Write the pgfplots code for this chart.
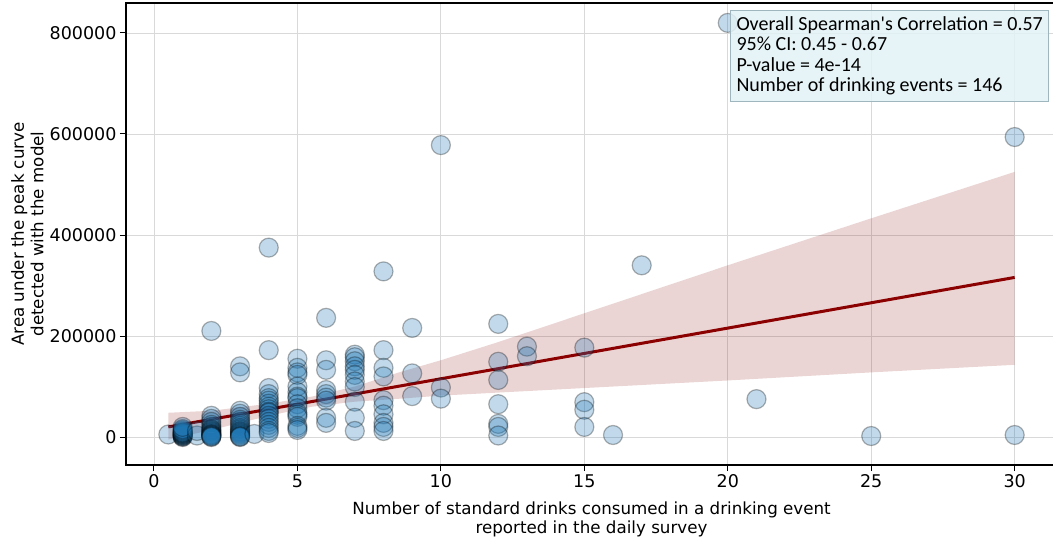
\documentclass[border=0pt]{standalone}
\usepackage{pgfplots}
\pgfplotsset{compat=1.18}
\usepackage{fontspec}
\setmainfont{DejaVu Sans}
\newfontfamily\carlito{Carlito}
\definecolor{tabblue}{HTML}{1F77B4}
\definecolor{dred}{HTML}{8B0000}
\definecolor{boxfill}{HTML}{E3F2F6}
\definecolor{boxedge}{HTML}{9FB6BE}
\begin{document}
\begin{tikzpicture}
\begin{axis}[
  at={(0,0)}, anchor=south west,
  scale only axis, width=931pt, height=462pt,
  xmin=-0.975, xmax=31.475, ymin=-55400, ymax=859400,
  xtick={0,5,10,15,20,25,30},
  ytick={0,200000,400000,600000,800000},
  scaled y ticks=false,
  yticklabel style={/pgf/number format/fixed,/pgf/number format/1000 sep={}},
  /pgf/number format/assume math mode=true,
  tick label style={font=\fontsize{17.5}{20}\selectfont},
  tick align=outside, tick pos=left,
  major tick length=6pt,
  every tick/.style={black, line width=1pt},
  axis line style={line width=1.2pt},
  grid=major, grid style={color=black!15, line width=0.8pt},
  xlabel={Number of standard drinks consumed in a drinking event\\reported in the daily survey},
  ylabel={Area under the peak curve\\detected with the model},
  xlabel style={at={(axis description cs:0.5,-0.118)}, anchor=center, align=center, font=\fontsize{16.7}{19.5}\selectfont},
  ylabel style={at={(axis description cs:-0.1058,0.5)}, anchor=center, align=center, font=\fontsize{16.7}{19.5}\selectfont},
  clip=false,
]
\addplot[only marks, mark=*, mark size=9.5pt,
  mark options={fill=tabblue, fill opacity=0.28, draw=black, draw opacity=0.3, line width=1.2pt}]
coordinates {
(0.5,5000)
(1,0)(1,1000)(1,2000)(1,3000)(1,4000)(1,5000)(1,6000)(1,7000)(1,8000)(1,9000)(1,10000)(1,12000)(1,14000)(1,16000)(1,20000)
(1.5,3000)(1.5,12000)
(2,42000)(2,36000)(2,30000)(2,24000)(2,20000)(2,16000)(2,14000)(2,12000)(2,10000)(2,8000)(2,6000)(2,5000)(2,4000)(2,3000)(2,2000)(2,1000)(2,0)(2,210000)
(3,140000)(3,128000)(3,52000)(3,46000)(3,40000)(3,34000)(3,30000)(3,26000)(3,22000)(3,18000)(3,15000)(3,12000)(3,10000)(3,8000)(3,6000)(3,4000)(3,2000)(3,1000)(3,0)
(3.5,6000)
(4,375000)(4,172000)(4,97000)(4,85000)(4,77000)(4,72000)(4,66000)(4,60000)(4,55000)(4,50000)(4,48000)(4,42000)(4,36000)(4,30000)(4,24000)(4,18000)(4,12000)(4,8000)
(5,155000)(5,137000)(5,128000)(5,123000)(5,100000)(5,89000)(5,80000)(5,77000)(5,65000)(5,57000)(5,48000)(5,44000)(5,40000)(5,22000)(5,18000)(5,14000)
(6,236000)(6,152000)(6,133000)(6,93000)(6,85000)(6,78000)(6,72000)(6,38000)(6,28000)
(7,163000)(7,158000)(7,150000)(7,140000)(7,133000)(7,123000)(7,110000)(7,99000)(7,70000)(7,38000)(7,12000)
(8,328000)(8,172000)(8,137000)(8,120000)(8,73000)(8,62000)(8,45000)(8,28000)(8,20000)(8,12000)
(9,216000)(9,126000)(9,81000)
(10,578000)(10,98000)(10,76000)
(12,224000)(12,149000)(12,113000)(12,65000)(12,26000)(12,20000)(12,3000)
(13,179000)(13,160000)
(15,177000)(15,69000)(15,54000)(15,20000)
(16,4000)
(17,340000)
(20,820000)
(21,75000)
(25,2000)
(30,594000)(30,4000)
};
\addplot[draw=none, fill=dred, fill opacity=0.17] coordinates {
(0.5,48000)(2,52000)(4,66000)(5.5,80000)(7,100000)(8.6,129000)(10,152000)(12,188000)(15,245000)(20,340000)(25,433000)(30,525000)
(30,143000)(25,128000)(20,112000)(15,97000)(12,88000)(10,82000)(8.6,76000)(7,70000)(5.5,60000)(4,42000)(2,14000)(0.5,-5000)
} -- cycle;
\addplot[dred, line width=3pt] coordinates {(0.5,20000)(30,316000)};
\end{axis}
\node[anchor=north west, draw=boxedge, fill=boxfill, fill opacity=0.85, text opacity=1, line width=1pt,
  inner sep=6pt, align=left, font=\carlito\fontsize{20}{20.5}\selectfont]
  at (604pt,455pt) {Overall Spearman's Correlation = 0.57\\95\% CI: 0.45 - 0.67\\P-value = 4e-14\\Number of drinking events = 146};
\pgfresetboundingbox
\path[use as bounding box] (-126pt,-76pt) rectangle (927pt,465pt);
\end{tikzpicture}
\end{document}
